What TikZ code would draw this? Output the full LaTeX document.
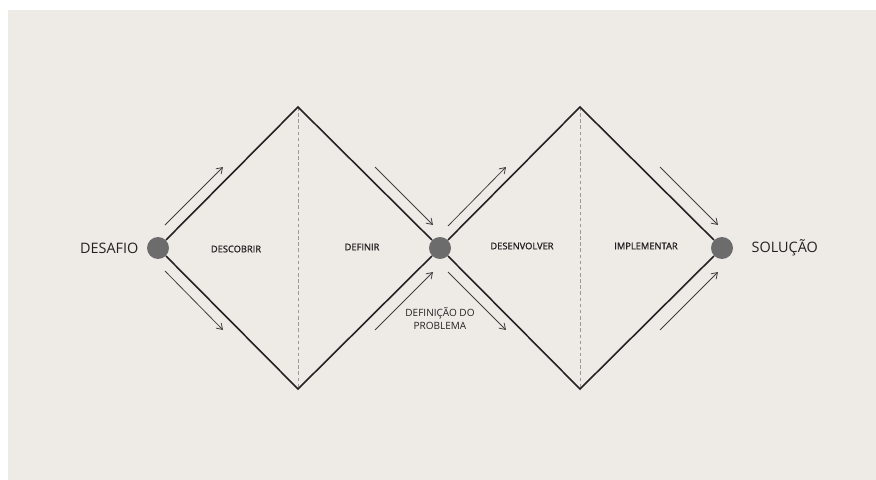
\documentclass[tikz,border=0pt]{standalone}
\usepackage{fontspec}
\setmainfont{Open Sans}
\newfontfamily\etapafont[FakeBold=1.2]{Open Sans}
\usetikzlibrary{positioning,arrows.meta}
\definecolor{fundo}{RGB}{238,234,230}
\definecolor{ponto}{RGB}{108,108,108}
\definecolor{tinta}{RGB}{34,34,34}
\tikzset{
  marco/.style={circle, fill=ponto, inner sep=0pt, minimum size=0.44cm},
  extremo/.style={inner sep=0pt, text=tinta, font=\fontsize{8.2}{9}\selectfont},
  etapa/.style={inner sep=0pt, text=tinta, font=\etapafont\fontsize{5.3}{6}\selectfont},
  losango/.style={tinta, line width=0.9pt},
  fluxo/.style={->, black!75, line width=0.45pt},
}
\begin{document}
\begin{tikzpicture}[x=0.02cm, y=-0.02cm, >={Straight Barb[length=3.2pt,width=4.2pt]}]
 \useasboundingbox (0,0) rectangle (876,480);
 \fill[white] (0,0) rectangle (876,480);
 \fill[fundo] (8,10) rectangle (876,480);
%
 \coordinate (topo1) at (298,107);
 \coordinate (base1) at (298,389);
 \coordinate (topo2) at (580,107);
 \coordinate (base2) at (580,389);
 \draw[black!40, dashed, dash pattern=on 2pt off 1.5pt, line width=0.4pt] (topo1) -- (base1);
 \draw[black!40, dashed, dash pattern=on 2pt off 1.5pt, line width=0.4pt] (topo2) -- (base2);
%
 \node[marco] (desafio) at (158,248) {};
 \node[marco] (meio) at (440,248) {};
 \node[marco] (solucao) at (722,248) {};
%
 \draw[losango] (desafio) -- (topo1) -- (meio) -- (topo2) -- (solucao);
 \draw[losango] (desafio) -- (base1) -- (meio) -- (base2) -- (solucao);
%
 \draw[fluxo] (165,225) -- (223,167);
 \draw[fluxo] (165,271) -- (223,330);
 \draw[fluxo] (375,167) -- (433,225);
 \draw[fluxo] (375,330) -- (433,272);
 \draw[fluxo] (448,226) -- (506,167);
 \draw[fluxo] (448,272) -- (506,330);
 \draw[fluxo] (660,167) -- (718,225);
 \draw[fluxo] (660,330) -- (718,272);
%
 \node[extremo, left=0.16cm of desafio] (desafioTxt) {DESAFIO};
 \node[extremo, right=0.36cm of solucao] (solucaoTxt) {SOLUÇÃO};
 \node[etapa] (descobrir) at (236,249) {DESCOBRIR};
 \node[etapa] (definir) at (362,247) {DEFINIR};
 \node[etapa] (desenvolver) at (522,246) {DESENVOLVER};
 \node[etapa] (implementar) at (646,246) {IMPLEMENTAR};
 \node[inner sep=0pt, text=tinta, align=center, font=\fontsize{5.7}{7.4}\selectfont] (problema) at (440,319) {DEFINIÇÃO DO\\PROBLEMA};
\end{tikzpicture}
\end{document}
